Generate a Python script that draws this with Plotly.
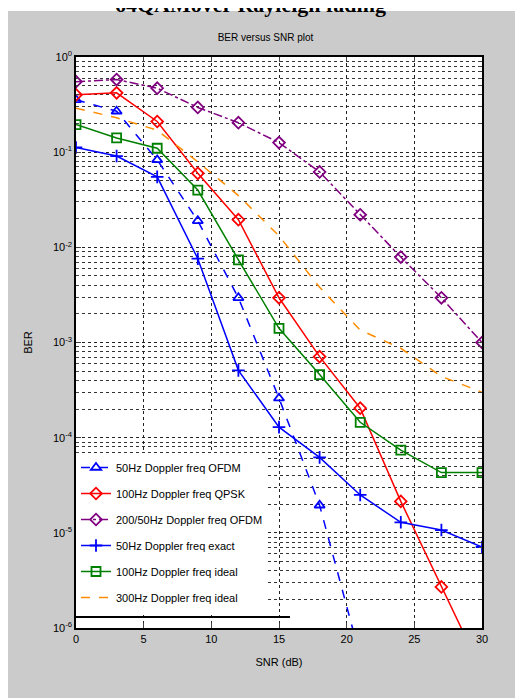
import plotly.graph_objects as go

# ---------------- data ----------------
snr_db = [0, 3, 6, 9, 12, 15, 18, 21, 24, 27, 30]

names = [
    "50Hz Doppler freq OFDM",
    "100Hz Doppler freq QPSK",
    "200/50Hz Doppler freq OFDM",
    "50Hz Doppler freq exact",
    "100Hz Doppler freq ideal",
    "300Hz Doppler freq ideal",
]

ber_tri = [0.355, 0.269, 0.083, 0.019, 2.95e-3, 2.6e-4, 1.95e-5, 5.0e-7]
ber_red = [0.40, 0.42, 0.21, 0.060, 0.0195, 2.95e-3, 7.1e-4, 2.04e-4, 2.14e-5, 2.7e-6, 3.5e-7]
ber_purple = [0.55, 0.58, 0.47, 0.295, 0.204, 0.126, 0.062, 0.022, 7.9e-3, 2.95e-3, 1.0e-3]
ber_plus = [0.112, 0.091, 0.055, 7.6e-3, 5.1e-4, 1.29e-4, 6.2e-5, 2.5e-5, 1.29e-5, 1.07e-5, 7.1e-6]
ber_green = [0.195, 0.141, 0.110, 0.040, 7.4e-3, 1.41e-3, 4.6e-4, 1.45e-4, 7.4e-5, 4.3e-5, 4.3e-5]
ber_orange = [0.29, 0.23, 0.17, 0.079, 0.035, 0.0132, 3.8e-3, 1.35e-3, 8.7e-4, 4.4e-4, 3.0e-4]

x_ticks = [0, 5, 10, 15, 20, 25, 30]
y_tickvals = [1e0, 1e-1, 1e-2, 1e-3, 1e-4, 1e-5, 1e-6]
y_ticktext = ["10<sup>0</sup>", "10<sup>-1</sup>", "10<sup>-2</sup>", "10<sup>-3</sup>",
              "10<sup>-4</sup>", "10<sup>-5</sup>", "10<sup>-6</sup>"]

# ---------------- geometry ----------------
# the page body adds an 8px margin, so the figure is drawn 8px in from the window edge
OFF = 8
PAGE_W, PAGE_H = 523, 698
W, H = PAGE_W - OFF, PAGE_H - OFF
# plot area in page pixels: x 76..482, y 57..628
PX0, PX1, PY0, PY1 = 76, 482, 57, 628
L, R, T, B = PX0 - OFF, PAGE_W - PX1, PY0 - OFF, PAGE_H - PY1
pw, ph = PX1 - PX0, PY1 - PY0


def fx(px):  # page pixel x -> paper fraction
    return (px - PX0) / pw


def fy(py):  # page pixel y -> paper fraction
    return (PY1 - py) / ph


fig = go.Figure()

series = [
    (snr_db[:len(ber_tri)], ber_tri, names[0], "#0000FF", "dash", "triangle-up-open"),
    (snr_db, ber_red, names[1], "#FF0000", "solid", "diamond-open"),
    (snr_db, ber_purple, names[2], "#800080", "dashdot", "diamond-open"),
    (snr_db, ber_plus, names[3], "#0000FF", "solid", "cross-thin-open"),
    (snr_db, ber_green, names[4], "#008000", "solid", "square-open"),
    (snr_db, ber_orange, names[5], "#FF8C00", "dash", None),
]

for i, (xs, ys, nm, col, dash, sym) in enumerate(series):
    kw = dict(x=xs, y=ys, name=nm, legendgroup=f"g{i}",
              line=dict(color=col, width=1.5, dash=dash))
    if sym:
        kw["mode"] = "lines+markers"
        kw["marker"] = dict(symbol=sym, size=9, color=col,
                            line=dict(color=col, width=1.8))
    else:
        kw["mode"] = "lines"
    fig.add_trace(go.Scatter(**kw))

fig.update_layout(
    width=W, height=H,
    margin=dict(l=L, r=R, t=T, b=B),
    paper_bgcolor="white",
    plot_bgcolor="white",
    font=dict(family="Liberation Sans, Arial, sans-serif", size=10, color="black"),
    showlegend=True,
    legend=dict(
        x=0.0, y=fy(612), xanchor="left", yanchor="bottom",
        bgcolor="white", borderwidth=0,
        font=dict(size=11, color="black"),
        tracegroupgap=7,
        itemwidth=30,
    ),
    title=dict(text="BER versus SNR plot", x=fx(279), xanchor="center",
               y=1 - (37 - OFF) / H, yanchor="middle",
               font=dict(size=10, color="black")),
)

fig.update_xaxes(
    range=[0, 30], tickvals=x_ticks, ticks="inside", ticklen=5,
    showline=True, linecolor="black", linewidth=1.5, mirror="ticks",
    showgrid=True, gridcolor="#222222", gridwidth=1, griddash="dot",
    zeroline=False, tickfont=dict(size=11),
    title=dict(text="SNR (dB)", font=dict(size=11), standoff=14),
)
fig.update_yaxes(
    type="log", range=[-6, 0], tickvals=y_tickvals, ticktext=y_ticktext,
    ticks="inside", ticklen=5,
    showline=True, linecolor="black", linewidth=1.5, mirror="ticks",
    showgrid=True, gridcolor="#222222", gridwidth=1, griddash="dot",
    minor=dict(dtick="D1", showgrid=True, gridcolor="#333333", griddash="dot",
               gridwidth=1, ticks="inside", ticklen=3),
    zeroline=False, tickfont=dict(size=11),
    title=dict(text="BER", font=dict(size=11), standoff=18),
)

# gray frame of the embedded picture
fig.add_shape(type="rect", xref="paper", yref="paper",
              x0=fx(OFF), x1=fx(519), y0=fy(PAGE_H), y1=fy(11),
              fillcolor="#CBCBCB", line=dict(width=0), layer="below")
# white axes area
fig.add_shape(type="rect", xref="paper", yref="paper",
              x0=0, x1=1, y0=0, y1=1,
              fillcolor="white", line=dict(width=0), layer="below")
# legend bottom edge
fig.add_shape(type="line", xref="paper", yref="paper",
              x0=0, x1=fx(290), y0=fy(617), y1=fy(617),
              line=dict(color="black", width=2))

# document caption above the picture (its top is cut by the page edge, as in the source)
fig.add_annotation(text="<b>64QAMover Rayleigh fading</b>", xref="paper", yref="paper",
                   x=fx(250), y=fy(19), xanchor="center", yanchor="bottom",
                   showarrow=False,
                   font=dict(family="Liberation Serif, Times New Roman, serif",
                             size=22, color="black"))

fig.write_html("out.html")
